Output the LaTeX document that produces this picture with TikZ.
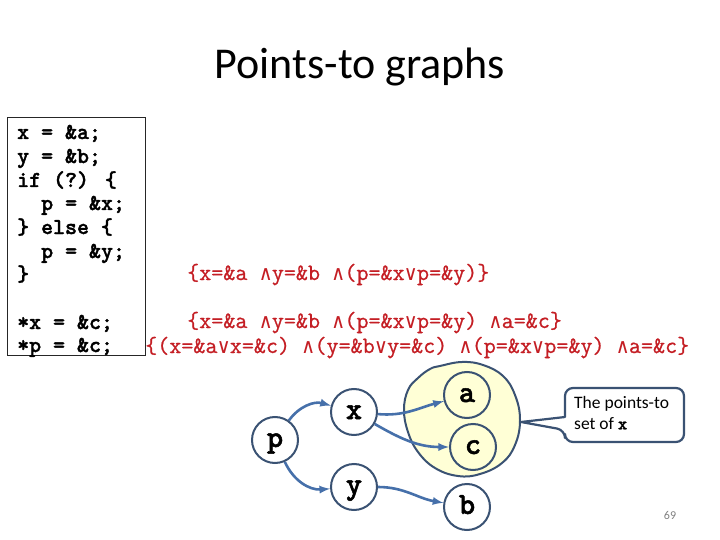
\documentclass[tikz,border=0pt]{standalone}
\usepackage{fontspec}
\setmainfont{Carlito}
\newfontfamily\symfont{DejaVu Sans Mono}
\newfontfamily\codebold{lmmonolt10-bold.otf}[FakeBold=1.6]
\newfontfamily\formfont{Latin Modern Mono}[FakeBold=0.8]
\usetikzlibrary{calc}

\definecolor{edgeblue}{RGB}{70,112,170}
\definecolor{rimblue}{RGB}{58,82,115}
\definecolor{setyellow}{RGB}{255,255,214}
\definecolor{formred}{RGB}{196,30,36}
\newcommand{\conj}{{\symfont\fontsize{20.5}{24}\selectfont ∧}}
\newcommand{\disj}{{\symfont\fontsize{20.5}{24}\selectfont ∨}}

\tikzset{
    codeline/.style={anchor=base west, inner sep=0pt, font=\codebold\fontsize{22.8}{24}\selectfont},
    formula/.style={anchor=base west, inner sep=0pt, text=formred, font=\formfont\fontsize{23.4}{24}\selectfont},
    var/.style={circle, draw=rimblue, line width=2pt, fill=white, minimum size=46pt, inner sep=0pt,
        text height=14pt, text depth=0pt, font=\codebold\fontsize{31}{31}\selectfont},
    pointsto/.style={draw=edgeblue, line width=2.6pt, -latex},
}

\begin{document}
\begin{tikzpicture}[x=1pt, y=-1pt]
        \useasboundingbox (0,0) rectangle (720,540);
        \node[font=\fontsize{44}{52}\selectfont, anchor=base] (title) at (360,79) {Points-to graphs};
        % the program
        \draw[black!85, line width=0.8pt] (7,117) rectangle (145,355);
        \node[codeline] (l1) at (17,139) {x = \&a;};
        \node[codeline] (l2) at (17,163) {y = \&b;};
        \node[codeline] (l3) at (17,187) {if (?) \{};
        \node[codeline] (l4) at (41,210) {p = \&x;};
        \node[codeline] (l5) at (17,234) {\} else \{};
        \node[codeline] (l6) at (41,258) {p = \&y;};
        \node[codeline] (l7) at (17,281) {\}};
        \node[codeline] (l8) at (17,329) {*x = \&c;};
        \node[codeline] (l9) at (17,352) {*p = \&c;};
        % formulas
        \node[formula] (f1) at (187,280) {\{x=\&a \conj y=\&b \conj(p=\&x\disj p=\&y)\}};
        \node[formula] (f2) at (187,328) {\{x=\&a \conj y=\&b \conj(p=\&x\disj p=\&y) \conj a=\&c\}};
        \node[formula] (f3) at (145,353) {\{(x=\&a\disj x=\&c) \conj(y=\&b\disj y=\&c) \conj(p=\&x\disj p=\&y) \conj a=\&c\}};
        % the set of x
        \draw[draw=rimblue, line width=2pt, fill=setyellow] plot[smooth cycle, tension=0.7] coordinates {
            (440,366) (462,362) (483,365) (503,376) (515,395) (520,420) (515,445) (502,463)
            (480,474) (458,476) (435,468) (418,452) (408,432) (404,410) (408,390) (418,378) (430,369)};
        \node[var] (p) at (275,440) {p};
        \node[var] (x) at (354,412) {x};
        \node[var] (y) at (354,487) {y};
        \node[var, fill=setyellow] (a) at (467,395) {a};
        \node[var, fill=setyellow] (c) at (473,447) {c};
        \node[var] (b) at (467,507) {b};
        \draw[pointsto] (p) to[bend left=35] (x);
        \draw[pointsto] (p) to[bend right=35] (y);
        \draw[pointsto] (x) to[out=-5, in=195] (a);
        \draw[pointsto] (x) to[out=-30, in=180] (c);
        \draw[pointsto] (y) to[out=0, in=170] (b);
        % callout
        \draw[rimblue, line width=2.2pt, fill=white, line join=round]
            (565,430) -- (521,422) -- (565,417) [rounded corners=8pt] -- (565,388) -- (684,388) -- (684,442) -- (565,442) -- cycle;
        \node[anchor=north west, align=left, inner sep=0pt, font=\fontsize{17.5}{21}\selectfont] (note) at (574,396)
            {The points-to\\set of {\codebold x}};
        \node[text=gray, font=\fontsize{12}{14}\selectfont] (pagenum) at (670,515) {69};
\end{tikzpicture}
\end{document}
